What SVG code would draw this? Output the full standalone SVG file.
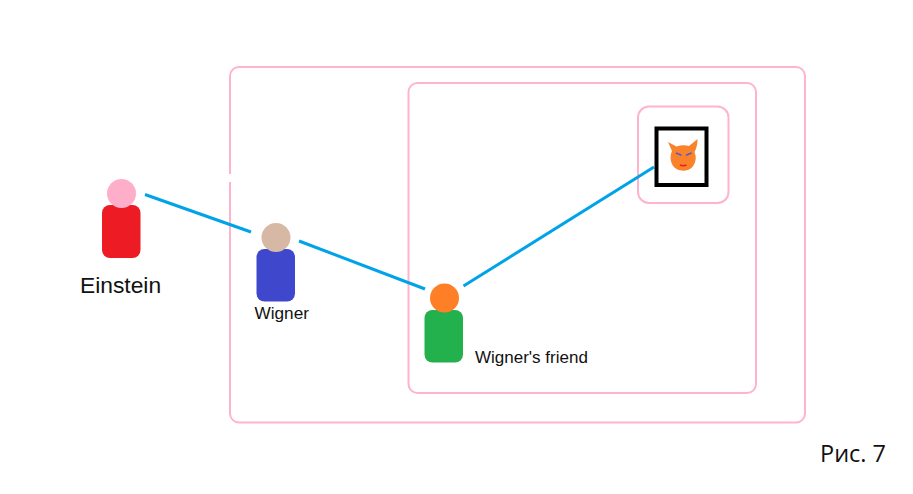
<svg xmlns="http://www.w3.org/2000/svg" width="913" height="494" viewBox="0 0 913 494">
<style>
.box{fill:none;stroke:#ffb3cd;stroke-width:2}
.link{stroke:#00a2e8;stroke-width:3;fill:none}
.label{font-family:"Liberation Sans",Arial,sans-serif;fill:#111}
</style>
<rect width="913" height="494" fill="#fff"/>
<g id="frames">
<rect id="outer-box" class="box" x="230" y="67" width="575" height="355.500" rx="9"/>
<rect id="middle-box" class="box" x="408.500" y="83" width="347.500" height="310" rx="9"/>
<rect id="cat-box" class="box" x="638" y="106.500" width="90.500" height="96.500" rx="11"/>
<rect x="226" y="174" width="8" height="8" fill="#fff"/>
</g>
<g id="connectors">
<path class="link" d="M145 194.500L251 232"/>
<path class="link" d="M299 241L425 289"/>
<path class="link" d="M463.500 286L654 167"/>
</g>
<g id="cat">
<rect x="656.500" y="128.500" width="50" height="56.500" fill="#fff" stroke="#000" stroke-width="4"/>
<path d="M668 142L676.500 146.500Q683 144.500 689 146L697.500 139Q697.500 147 694.500 152Q696 156 695.700 159Q694 170.500 683 170.700Q671.500 170 670.500 158Q670.500 154 672 151Z" fill="#f9822b"/>
<path d="M676 153L681.500 155.300M686 155.300L691.500 153" stroke="#5b57c8" stroke-width="1.500" fill="none"/>
<path d="M680 165Q683 166.500 686.500 165" stroke="#ed1c24" stroke-width="1.500" fill="none"/>
</g>
<g id="einstein">
<rect x="102" y="205" width="38.500" height="53" rx="8" fill="#ed1c24"/>
<circle cx="121.500" cy="193.500" r="14.500" fill="#ffaec9"/>
<text class="label" x="80" y="293" font-size="22.800">Einstein</text>
</g>
<g id="wigner">
<rect x="256.500" y="249" width="38.500" height="52.500" rx="8" fill="#3f48cc"/>
<circle cx="276" cy="237.500" r="14.500" fill="#d7b8a5"/>
<text class="label" x="254.500" y="318.500" font-size="17.200">Wigner</text>
</g>
<g id="friend">
<rect x="424.500" y="310" width="38.500" height="52.500" rx="8" fill="#22b14c"/>
<circle cx="444.500" cy="298" r="14.500" fill="#ff7f27"/>
<text class="label" x="475" y="363" font-size="17">Wigner's friend</text>
</g>
<text id="caption" x="820" y="462" font-size="23.500" font-family="'Open Sans','Noto Sans',sans-serif" fill="#111">Рис. 7</text>
</svg>
